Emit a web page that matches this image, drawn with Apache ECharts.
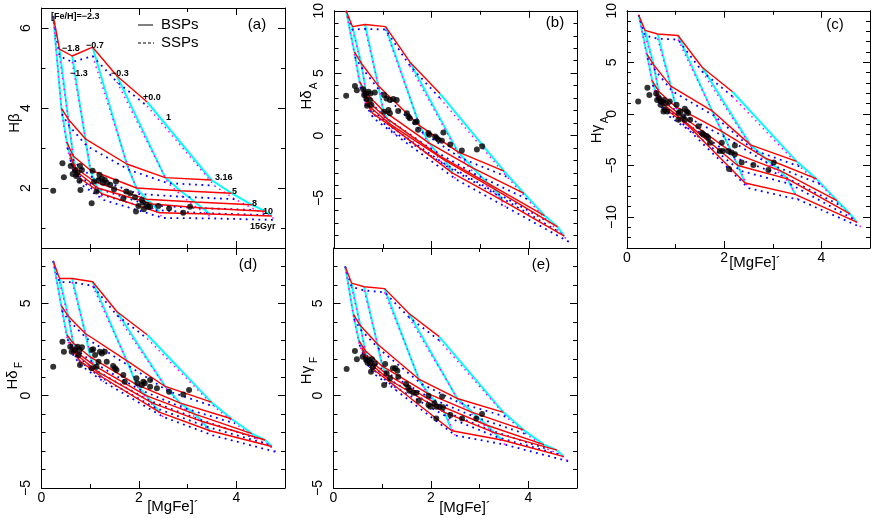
<!DOCTYPE html>
<html><head><meta charset="utf-8">
<script src="https://cdn.jsdelivr.net/npm/echarts@6/dist/echarts.min.js"></script>
<style>html,body{margin:0;padding:0;background:#fff}#main{width:872px;height:518px}</style>
</head><body><div id="main"></div>
<script>
// ---------------- DATA ----------------
const ageLabels = ['1', '3.16', '5', '8', '10', '15Gyr'];
const fehLabels = ['[Fe/H]=\u22122.3', '\u22121.8', '\u22121.3', '\u22120.7', '\u22120.3', '+0.0'];

// [MgFe]' of model nodes: rows = ages (1,3.16,5,8,10,15 Gyr), cols = [Fe/H] (-2.3..0.0)
const mgfeBSP = [
  [0.24, 0.37, 0.63, 1.05, 1.55, 2.17],
  [0.41, 0.55, 0.90, 1.75, 2.54, 3.49],
  [0.52, 0.65, 1.00, 1.95, 2.85, 3.90],
  [0.58, 0.70, 1.10, 2.15, 3.15, 4.32],
  [0.60, 0.73, 1.15, 2.28, 3.30, 4.59],
  [0.63, 0.78, 1.25, 2.43, 3.46, 4.73]];
const mgfeSSP = [
  [0.24, 0.37, 0.63, 1.05, 1.55, 2.17],
  [0.42, 0.57, 0.93, 1.80, 2.60, 3.55],
  [0.53, 0.67, 1.03, 2.00, 2.90, 3.97],
  [0.59, 0.72, 1.13, 2.20, 3.20, 4.40],
  [0.61, 0.75, 1.18, 2.33, 3.36, 4.66],
  [0.64, 0.80, 1.28, 2.50, 3.52, 4.82]];

const hbetaBSP = [
  [6.30, 5.47, 5.30, 5.52, 4.80, 4.15],
  [3.99, 3.72, 3.23, 2.60, 2.26, 2.20],
  [3.15, 2.80, 2.45, 2.00, 1.93, 1.87],
  [2.85, 2.50, 2.15, 1.72, 1.65, 1.58],
  [2.75, 2.40, 2.00, 1.60, 1.50, 1.42],
  [2.60, 2.25, 1.85, 1.38, 1.35, 1.30]];
const hbetaSSP = [
  [6.30, 5.30, 5.15, 5.30, 4.65, 4.05],
  [3.85, 3.55, 3.05, 2.45, 2.12, 2.06],
  [3.00, 2.65, 2.28, 1.85, 1.78, 1.72],
  [2.70, 2.35, 2.00, 1.57, 1.50, 1.45],
  [2.60, 2.25, 1.85, 1.45, 1.37, 1.32],
  [2.45, 2.10, 1.70, 1.25, 1.24, 1.20]];

const hdeltaABSP = [
  [10.0, 8.73, 8.90, 8.73, 5.90, 3.37],
  [6.70, 5.80, 4.00, 0.80, -1.30, -2.85],
  [4.30, 3.40, 2.00, -0.60, -2.60, -4.62],
  [3.70, 2.70, 1.30, -1.60, -3.80, -6.40],
  [3.30, 2.30, 0.90, -2.00, -4.30, -7.30],
  [2.90, 1.80, 0.50, -3.00, -5.20, -8.05]];
const hdeltaASSP = [
  [10.0, 8.50, 8.55, 8.50, 5.60, 3.00],
  [6.30, 5.40, 3.60, 0.30, -1.80, -3.30],
  [3.90, 3.00, 1.50, -1.10, -3.10, -5.10],
  [3.30, 2.30, 0.80, -2.10, -4.30, -6.90],
  [2.90, 1.90, 0.40, -2.50, -4.80, -7.80],
  [2.50, 1.40, 0.00, -3.50, -5.70, -8.50]];

const hgammaABSP = [
  [9.60, 8.10, 7.75, 7.60, 4.50, 2.15],
  [5.80, 4.75, 2.70, 0.30, -3.00, -4.60],
  [3.20, 2.20, 0.70, -1.70, -4.30, -6.30],
  [2.30, 1.40, -0.10, -3.70, -5.50, -8.40],
  [2.00, 1.00, -0.60, -5.00, -6.30, -9.70],
  [1.60, 0.50, -1.10, -6.70, -7.80, -10.50]];
const hgammaASSP = [
  [9.60, 7.60, 7.30, 7.20, 4.10, 1.70],
  [5.40, 4.30, 2.20, -0.20, -3.50, -5.10],
  [2.80, 1.70, 0.20, -2.20, -4.80, -6.80],
  [1.90, 0.90, -0.60, -4.20, -6.00, -8.90],
  [1.60, 0.50, -1.10, -5.50, -6.80, -10.20],
  [1.20, 0.00, -1.60, -7.20, -8.30, -11.00]];

const hdeltaFBSP = [
  [7.30, 6.35, 6.35, 6.17, 4.55, 3.30],
  [4.86, 4.30, 3.37, 1.90, 0.50, -0.35],
  [3.30, 2.85, 2.10, 0.60, -0.40, -1.25],
  [2.90, 2.40, 1.60, 0.00, -1.00, -2.05],
  [2.70, 2.20, 1.30, -0.40, -1.40, -2.40],
  [2.50, 1.90, 1.00, -0.90, -1.90, -2.75]];
const hdeltaFSSP = [
  [7.30, 6.15, 6.15, 5.95, 4.35, 3.10],
  [4.60, 4.05, 3.10, 1.60, 0.25, -0.60],
  [3.05, 2.60, 1.85, 0.35, -0.65, -1.50],
  [2.65, 2.15, 1.35, -0.25, -1.25, -2.30],
  [2.45, 1.95, 1.05, -0.65, -1.65, -2.65],
  [2.25, 1.65, 0.75, -1.15, -2.15, -3.05]];

const hgammaFBSP = [
  [7.00, 6.10, 5.90, 5.80, 4.45, 3.20],
  [4.40, 3.80, 2.80, 0.90, -0.15, -0.90],
  [3.00, 2.45, 1.60, 0.10, -0.90, -1.85],
  [2.60, 2.00, 1.15, -0.50, -1.60, -2.65],
  [2.40, 1.80, 0.85, -0.90, -2.00, -2.95],
  [2.20, 1.50, 0.55, -1.90, -2.40, -3.30]];
const hgammaFSSP = [
  [7.00, 5.90, 5.70, 5.60, 4.25, 3.00],
  [4.15, 3.55, 2.55, 0.65, -0.40, -1.15],
  [2.75, 2.20, 1.35, -0.15, -1.15, -2.10],
  [2.35, 1.75, 0.90, -0.75, -1.85, -2.90],
  [2.15, 1.55, 0.60, -1.15, -2.25, -3.20],
  [1.95, 1.25, 0.30, -2.15, -2.65, -3.55]];

// observed objects: [ [MgFe]', index ]
const obsHbeta = [[0.24,1.93],[0.43,2.62],[0.46,2.27],[0.60,2.55],[0.64,2.35],[0.69,2.45],[0.71,2.30],[0.74,2.38],[0.78,2.18],[0.79,2.55],[0.80,1.95],[0.83,2.45],[1.03,1.62],[1.05,2.43],[1.08,2.16],[1.13,1.91],[1.17,2.20],[1.19,2.33],[1.24,2.24],[1.26,2.13],[1.30,2.20],[1.34,2.13],[1.41,2.08],[1.49,1.97],[1.53,2.16],[1.68,1.74],[1.74,1.91],[1.82,1.87],[1.92,1.77],[1.94,1.41],[1.99,1.55],[2.06,1.70],[2.08,1.63],[2.10,1.47],[2.16,1.58],[2.19,1.53],[2.23,1.53],[2.40,1.55],[2.62,1.49],[2.91,1.38],[3.05,1.53]];
const obsHdeltaA = [[0.24,3.19],[0.42,3.98],[0.46,3.64],[0.59,3.72],[0.65,3.37],[0.70,3.51],[0.74,3.37],[0.83,3.45],[0.61,3.25],[0.66,2.93],[0.73,2.85],[0.76,2.45],[0.67,2.40],[1.02,3.25],[1.07,2.98],[1.14,2.85],[1.21,2.93],[1.28,2.85],[1.11,2.06],[1.02,1.92],[1.14,1.79],[1.31,1.98],[1.49,1.79],[1.52,1.53],[1.55,1.40],[1.66,1.08],[1.69,1.13],[1.72,0.47],[1.93,0.21],[1.95,0.08],[2.07,-0.06],[2.10,-0.19],[2.24,0.26],[2.14,-0.32],[2.21,-0.40],[2.38,-0.71],[2.62,-1.19],[2.93,-1.11],[3.04,-0.85]];
const obsHgammaA = [[0.23,1.20],[0.42,2.54],[0.46,1.84],[0.60,1.99],[0.62,1.36],[0.66,1.51],[0.71,1.20],[0.76,1.36],[0.80,1.03],[0.69,0.88],[0.78,0.40],[0.83,0.24],[0.75,0.24],[0.88,1.20],[1.02,0.88],[1.06,0.08],[1.10,0.24],[1.19,0.50],[1.23,0.24],[1.26,0.08],[1.16,-0.24],[1.06,-0.56],[1.19,-0.56],[1.30,-0.56],[1.47,-1.20],[1.54,-1.84],[1.57,-1.99],[1.64,-2.15],[1.67,-2.31],[1.71,-2.79],[1.95,-2.79],[1.91,-3.59],[1.97,-3.59],[2.08,-3.59],[2.15,-3.75],[2.22,-3.05],[2.22,-3.90],[2.10,-5.34],[2.36,-4.71],[2.60,-4.96],[2.91,-5.44],[3.02,-4.71]];
const obsHdeltaF = [[0.24,1.57],[0.43,2.92],[0.46,2.38],[0.59,2.65],[0.62,2.38],[0.69,2.47],[0.74,2.65],[0.78,2.47],[0.83,2.62],[0.76,2.20],[0.79,1.66],[1.03,2.47],[1.06,2.51],[1.10,2.20],[1.03,1.48],[1.13,1.57],[1.17,1.84],[1.20,2.38],[1.24,2.29],[1.30,2.38],[1.34,1.84],[1.47,1.61],[1.51,1.48],[1.54,1.39],[1.68,1.12],[1.71,0.76],[1.95,0.94],[1.97,0.67],[2.06,0.58],[2.09,0.76],[2.12,0.67],[2.23,0.85],[2.23,0.49],[2.37,0.40],[2.62,0.22],[2.91,0.07],[3.03,0.31]];
const obsHgammaF = [[0.27,1.45],[0.44,2.42],[0.48,1.97],[0.60,2.11],[0.67,1.93],[0.72,1.97],[0.79,1.97],[0.70,1.79],[0.75,1.75],[0.81,1.54],[0.85,1.75],[0.77,1.30],[1.06,1.72],[1.09,1.21],[1.04,0.58],[1.16,0.94],[1.22,1.48],[1.27,1.48],[1.31,1.35],[1.33,1.03],[1.49,0.63],[1.54,0.45],[1.56,0.27],[1.64,0.16],[1.70,0.16],[1.75,-0.27],[1.95,0.00],[1.95,-0.50],[1.99,-0.60],[2.07,-0.41],[2.11,-0.60],[2.18,-0.60],[2.23,-0.05],[2.25,-0.63],[2.11,-1.23],[2.40,-1.05],[2.64,-1.23],[2.93,-1.23],[3.05,-0.99]];

// axis ticks
const xTickLabels = [0, 2, 4];
const xMinorTicks = [1, 3, 5];
const hbetaTicks = [2, 4, 6];
const hbetaMinor = [1, 3, 5];
const hdeltaATicks = [-5, 0, 5, 10];
const hgammaATicks = [-10, -5, 0, 5, 10];
const hFTicks = [-5, 0, 5];

// ---------------- LAYOUT ----------------
const panels = [
  {box: {left: 41.5, top: 8, width: 243.5, height: 240}, y: [0.5, 6.5], major: hbetaTicks, minor: hbetaMinor, xLabels: false, bsp: hbetaBSP, ssp: hbetaSSP, obs: obsHbeta},
  {box: {left: 334.5, top: 8, width: 243, height: 240}, y: [-9, 10], major: hdeltaATicks, minor: null, xLabels: false, bsp: hdeltaABSP, ssp: hdeltaASSP, obs: obsHdeltaA},
  {box: {left: 627, top: 8, width: 243, height: 240}, y: [-13, 10], major: hgammaATicks, minor: null, xLabels: true, bsp: hgammaABSP, ssp: hgammaASSP, obs: obsHgammaA},
  {box: {left: 41.5, top: 248, width: 243.5, height: 240}, y: [-5, 8], major: hFTicks, minor: null, xLabels: true, bsp: hdeltaFBSP, ssp: hdeltaFSSP, obs: obsHdeltaF},
  {box: {left: 333.5, top: 248, width: 243.5, height: 240}, y: [-5, 8], major: hFTicks, minor: null, xLabels: true, bsp: hgammaFBSP, ssp: hgammaFSSP, obs: obsHgammaF}
];

const FONT = '"Liberation Sans", Arial, sans-serif';
const minusFmt = v => (v < 0 ? '\u2212' : '') + Math.abs(v);
function intsBetween(a, b, skip) {
  const out = [];
  for (let v = Math.ceil(a); v <= b; v++) if (skip.indexOf(v) < 0) out.push(v);
  return out;
}

const grids = [], xAxes = [], yAxes = [], series = [];
panels.forEach((p, gi) => {
  grids.push(Object.assign({}, p.box));
  const mk = (pos, min, max, showLine, ticks, tlen, labels, isY) => ({
    type: 'value', gridIndex: gi, position: pos, min: min, max: max, silent: true,
    splitLine: {show: false},
    axisLine: {show: showLine, onZero: false, lineStyle: {color: '#000', width: 1}},
    axisTick: {show: true, inside: true, length: tlen, customValues: ticks, lineStyle: {color: '#000', width: 1}},
    axisLabel: labels ? {show: true, customValues: labels, formatter: minusFmt, color: '#000', fontSize: 14, fontFamily: FONT,
      margin: isY ? 8 : 3, rotate: isY ? 90 : 0} : {show: false}
  });
  const xMinor = xMinorTicks;
  const yMinor = p.minor || intsBetween(p.y[0], p.y[1], p.major);
  const xi = xAxes.length, yi = yAxes.length;
  xAxes.push(mk('bottom', 0, 5, true, xTickLabels, 7, p.xLabels ? xTickLabels : null, false));
  xAxes.push(mk('bottom', 0, 5, false, xMinor, 4, null, false));
  xAxes.push(mk('top', 0, 5, true, xTickLabels, 7, null, false));
  xAxes.push(mk('top', 0, 5, false, xMinor, 4, null, false));
  yAxes.push(mk('left', p.y[0], p.y[1], true, p.major, 7, p.major, true));
  yAxes.push(mk('left', p.y[0], p.y[1], false, yMinor, 4, null, true));
  yAxes.push(mk('right', p.y[0], p.y[1], true, p.major, 7, null, true));
  yAxes.push(mk('right', p.y[0], p.y[1], false, yMinor, 4, null, true));

  const base = {type: 'line', xAxisIndex: xi, yAxisIndex: yi, showSymbol: false, symbol: 'none', silent: true, animation: false};
  for (let j = 0; j < 6; j++) {
    series.push(Object.assign({}, base, {z: 1, data: mgfeBSP.map((row, i) => [row[j], p.bsp[i][j]]),
      lineStyle: {color: '#00ffff', width: 2}}));
  }
  for (let j = 0; j < 6; j++) {
    series.push(Object.assign({}, base, {z: 2, data: mgfeSSP.map((row, i) => [row[j], p.ssp[i][j]]),
      lineStyle: {color: '#ff00ff', width: 1.5, type: [1.5, 4]}}));
  }
  for (let i = 0; i < 6; i++) {
    series.push(Object.assign({}, base, {z: 3, data: mgfeSSP[i].map((x, j) => [x, p.ssp[i][j]]),
      lineStyle: {color: '#0000ff', width: 1.8, type: [1.8, 4.5]}}));
  }
  for (let i = 0; i < 6; i++) {
    series.push(Object.assign({}, base, {z: 4, data: mgfeBSP[i].map((x, j) => [x, p.bsp[i][j]]),
      lineStyle: {color: '#ff0000', width: 1.4}}));
  }
  series.push({type: 'scatter', xAxisIndex: xi, yAxisIndex: yi, z: 5, silent: true, animation: false,
    symbol: 'circle', symbolSize: 6, itemStyle: {color: '#000'}, data: p.obs});
});

// ---------------- TEXT ----------------
function txt(s, x, y, size, opts) {
  opts = opts || {};
  return Object.assign({type: 'text', x: x, y: y, silent: true, z: 100,
    style: {text: s, fill: '#000', font: (opts.bold ? 'bold ' : '') + size + 'px ' + FONT,
      textAlign: opts.align || 'left', textVerticalAlign: 'middle', align: opts.align || 'left', verticalAlign: 'middle'}},
    opts.rot ? {rotation: opts.rot} : {});
}
const R = Math.PI / 2;
const fehPos = [[51, 17], [62, 49], [70, 74], [86, 46], [111, 74], [143, 98]];
const agePos = [[166, 118], [215, 178], [232, 192], [252, 204], [263, 212], [250, 227]];
const graphics = [];
fehLabels.forEach((s, k) => graphics.push(txt(s, fehPos[k][0], fehPos[k][1], 9, {bold: true})));
ageLabels.forEach((s, k) => graphics.push(txt(s, agePos[k][0], agePos[k][1], 9, {bold: true})));
graphics.push({type: 'line', silent: true, z: 100, shape: {x1: 138, y1: 25, x2: 153, y2: 25}, style: {stroke: '#000', lineWidth: 1}});
graphics.push({type: 'line', silent: true, z: 100, shape: {x1: 138, y1: 43, x2: 154, y2: 43}, style: {stroke: '#000', lineWidth: 1, lineDash: [3, 2]}});
graphics.push(txt('BSPs', 161, 25, 15));
graphics.push(txt('SSPs', 161, 43, 15));
[['(a)', 257, 25], ['(b)', 555, 23], ['(c)', 835, 25], ['(d)', 248, 265], ['(e)', 541, 265]]
  .forEach(a => graphics.push(txt(a[0], a[1], a[2], 15, {align: 'center'})));
// y titles
graphics.push(txt('H\u03b2', 15, 123, 15, {align: 'center', rot: R}));
graphics.push(txt('H\u03b4', 307, 100, 15, {align: 'center', rot: R}));
graphics.push(txt('A', 314, 86, 10, {align: 'center', rot: R}));
graphics.push(txt('H\u03b3', 597, 134, 15, {align: 'center', rot: R}));
graphics.push(txt('A', 605, 120, 10, {align: 'center', rot: R}));
graphics.push(txt('H\u03b4', 13, 380, 15, {align: 'center', rot: R}));
graphics.push(txt('F', 19, 365, 10, {align: 'center', rot: R}));
graphics.push(txt('H\u03b3', 307, 375, 15, {align: 'center', rot: R}));
graphics.push(txt('F', 314, 360, 10, {align: 'center', rot: R}));
// x titles
graphics.push(txt('[MgFe]\u00b4', 173, 507, 15, {align: 'center'}));
graphics.push(txt('[MgFe]\u00b4', 465, 508, 15, {align: 'center'}));
graphics.push(txt('[MgFe]\u00b4', 755, 263, 15, {align: 'center'}));

const chart = echarts.init(document.getElementById('main'), null, {renderer: 'canvas'});
chart.setOption({
  animation: false,
  backgroundColor: '#fff',
  grid: grids,
  xAxis: xAxes,
  yAxis: yAxes,
  series: series,
  graphic: graphics
});
</script></body></html>
